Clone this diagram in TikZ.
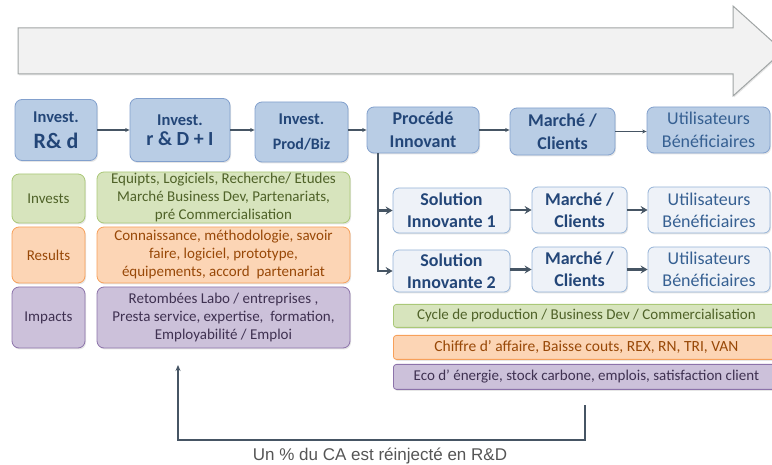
\documentclass[tikz,border=0pt]{standalone}
\usepackage{fontspec}
\setmainfont{Carlito}
\newfontfamily\arialf{Liberation Sans}
\usetikzlibrary{shadows,arrows.meta,calc}
\definecolor{arrowFill}{RGB}{242,242,242}
\definecolor{arrowDraw}{RGB}{160,165,165}
\definecolor{blueFill}{RGB}{185,205,229}
\definecolor{blueDraw}{RGB}{130,160,205}
\definecolor{blueText}{RGB}{35,70,120}
\definecolor{utilText}{RGB}{54,96,146}
\definecolor{lightFill}{RGB}{238,242,248}
\definecolor{lightDraw}{RGB}{149,179,215}
\definecolor{greenFill}{RGB}{215,228,189}
\definecolor{greenDraw}{RGB}{170,200,120}
\definecolor{greenText}{RGB}{79,98,40}
\definecolor{orangeFill}{RGB}{252,213,181}
\definecolor{orangeDraw}{RGB}{247,160,90}
\definecolor{orangeText}{RGB}{152,72,7}
\definecolor{purpleFill}{RGB}{204,193,218}
\definecolor{purpleDraw}{RGB}{140,115,170}
\definecolor{purpleText}{RGB}{63,49,81}
\definecolor{lineCol}{RGB}{70,85,100}
\definecolor{fbText}{RGB}{85,85,85}
\tikzset{
  shad/.style={drop shadow={opacity=0.2,shadow xshift=1pt,shadow yshift=-1.5pt}},
  topbox/.style={rounded corners=7pt, draw=blueDraw, fill=blueFill, line width=0.8pt, text=blueText, font=\bfseries, align=center, inner sep=0pt, shad},
  solbox/.style={rounded corners=6pt, draw=lightDraw, fill=lightFill, line width=0.8pt, text=blueText, font=\bfseries\fontsize{18}{22}\selectfont, align=center, inner sep=0pt, shad},
  labbox/.style={rounded corners=7pt, line width=0.8pt, align=center, inner sep=0pt, font=\fontsize{15}{18}\selectfont, shad},
  barbox/.style={rounded corners=3pt, line width=0.8pt, align=center, inner sep=0pt, font=\fontsize{15}{17}\selectfont, shad},
  greenS/.style={draw=greenDraw, fill=greenFill, text=greenText},
  orangeS/.style={draw=orangeDraw, fill=orangeFill, text=orangeText},
  purpleS/.style={draw=purpleDraw, fill=purpleFill, text=purpleText},
  toparr/.style={draw=lineCol, line width=1.2pt, -{Stealth[length=4.5pt,width=4pt]}},
  lowarr/.style={draw=lineCol, line width=2.2pt, -{Stealth[length=7pt,width=8pt,inset=2.5pt]}},
  fbarr/.style={draw=lineCol, line width=1.8pt, -{Stealth[length=6pt,width=5pt]}},
}
\begin{document}
\begin{tikzpicture}[x=1pt,y=-1pt]
\useasboundingbox (0,0) rectangle (772,465);
% big arrow
\draw[draw=arrowDraw, fill=arrowFill, line width=1pt, shad]
  (18,28) -- (733,28) -- (733,6) -- (783,51) -- (733,96) -- (733,74) -- (18,74) -- cycle;
% top row
\node[topbox, minimum width=82pt, minimum height=61pt] (b1) at (56,130)
  {{\fontsize{16.5}{18}\selectfont Invest.}\\[9pt]{\fontsize{22}{24}\selectfont R\& d}};
\node[topbox, minimum width=100pt, minimum height=63pt] (b2) at (180,130)
  {{\fontsize{16.5}{18}\selectfont Invest.}\\[5pt]{\fontsize{20}{22}\selectfont r \& D + I}};
\node[topbox, minimum width=93pt, minimum height=60pt] (b3) at (301.5,132)
  {{\fontsize{16.5}{18}\selectfont Invest.}\\[13pt]{\fontsize{16}{18}\selectfont Prod/Biz}};
\node[topbox, minimum width=112pt, minimum height=46pt, font=\bfseries\fontsize{18}{23}\selectfont] (b4) at (423,130) {Procédé\\Innovant};
\node[topbox, minimum width=105pt, minimum height=47pt, font=\bfseries\fontsize{18}{23}\selectfont] (b5) at (562.5,131.5) {Marché /\\Clients};
\node[topbox, minimum width=123pt, minimum height=46pt, font=\fontsize{18}{23}\selectfont, text=utilText] (b6) at (708.5,130) {Utilisateurs\\Bénéficiaires};
\draw[toparr] (b1.east) -- (b1.east -| b2.west);
\draw[toparr] (b2.east) -- (b2.east -| b3.west);
\draw[toparr] (b3.east |- b4.west) -- (b4.west);
\draw[toparr] (b4.east) -- (b4.east -| b5.west);
\draw[toparr] (b5.east) -- (b5.east -| b6.west);
% solution rows
\node[solbox, minimum width=117pt, minimum height=45pt] (s1) at (451.5,210.5) {Solution\\Innovante 1};
\node[solbox, minimum width=95pt, minimum height=46pt] (m1) at (579.5,210) {Marché /\\Clients};
\node[solbox, minimum width=122pt, minimum height=46pt, font=\fontsize{18}{22}\selectfont, text=utilText] (u1) at (709,210) {Utilisateurs\\Bénéficiaires};
\node[solbox, minimum width=117pt, minimum height=42pt] (s2) at (451.5,271) {Solution\\Innovante 2};
\node[solbox, minimum width=95pt, minimum height=45pt] (m2) at (579.5,269.5) {Marché /\\Clients};
\node[solbox, minimum width=122pt, minimum height=45pt, font=\fontsize{18}{22}\selectfont, text=utilText] (u2) at (709,269.5) {Utilisateurs\\Bénéficiaires};
\coordinate (tr) at ([xshift=11pt]b4.south west);
\draw[lowarr] (tr) |- (s1.west);
\draw[lowarr] (tr) |- (s2.west);
\draw[lowarr] (s1.east |- m1.west) -- (m1.west);
\draw[lowarr] (m1.east) -- (m1.east -| u1.west);
\draw[lowarr] (s2.east |- m2.west) -- (m2.west);
\draw[lowarr] (m2.east) -- (m2.east -| u2.west);
% bars
\node[barbox, greenS, minimum width=386pt, minimum height=23pt, anchor=north west] (g) at (393,304) {Cycle de production / Business Dev / Commercialisation};
\node[barbox, orangeS, minimum width=386pt, minimum height=24pt, anchor=north west] (o) at (393,335) {\fontsize{15.5}{17}\selectfont Chiffre d’ affaire, Baisse couts, REX, RN, TRI, VAN};
\node[barbox, purpleS, minimum width=386pt, minimum height=25pt, anchor=north west] (p) at (393,364) {Eco d’ énergie, stock carbone, emplois, satisfaction client};
% left table
\node[labbox, greenS, minimum width=73pt, minimum height=49pt] (l1) at (48.5,198.5) {Invests};
\node[labbox, orangeS, minimum width=73pt, minimum height=56pt] (l2) at (48.5,255) {Results};
\node[labbox, purpleS, minimum width=73pt, minimum height=61pt] (l3) at (48.5,317.5) {Impacts};
\node[labbox, greenS, minimum width=253pt, minimum height=51pt] (c1) at (223.5,197.5)
  {Equipts, Logiciels, Recherche/ Etudes\\Marché Business Dev, Partenariats,\\pré Commercialisation};
\node[labbox, orangeS, minimum width=253pt, minimum height=56pt] (c2) at (223.5,255)
  {Connaissance, méthodologie, savoir\\faire, logiciel, prototype,\\équipements, accord\ \ partenariat};
\node[labbox, purpleS, minimum width=253pt, minimum height=61pt] (c3) at (223.5,317.5)
  {Retombées Labo / entreprises ,\\Presta service, expertise,\ \ formation,\\Employabilité / Emploi};
% feedback
\coordinate (fbs) at (585,405);
\coordinate (fbe) at (178,365);
\coordinate (fbb) at (585,440);
\draw[fbarr] (fbs) -- (fbb) -| (fbe);
\node[font=\arialf\fontsize{17}{19}\selectfont, text=fbText] (fbt) at (380,456) {Un \% du CA est réinjecté en R\&D};
\end{tikzpicture}
\end{document}
